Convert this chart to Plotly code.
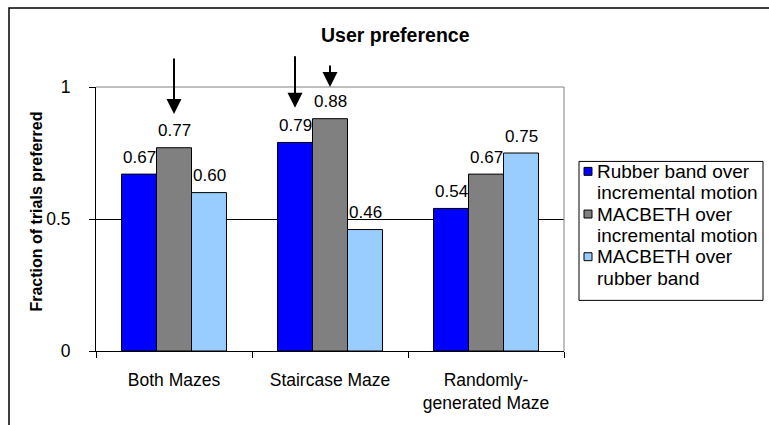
import plotly.graph_objects as go

# ---- data ----
categories = ["Both Mazes", "Staircase Maze", "Randomly-<br>generated Maze"]
series_names = [
    "Rubber band over<br>incremental motion",
    "MACBETH over<br>incremental motion",
    "MACBETH over<br>rubber band",
]
rubber_vs_incremental = [0.67, 0.79, 0.54]
macbeth_vs_incremental = [0.77, 0.88, 0.67]
macbeth_vs_rubber = [0.60, 0.46, 0.75]
series_values = [rubber_vs_incremental, macbeth_vs_incremental, macbeth_vs_rubber]
series_colors = ["#0000FF", "#808080", "#99CCFF"]

y_ticks = [0, 0.5, 1]
y_tick_labels = ["0", "0.5", "1"]

# highlighted bars: (category index, series index, arrow tip value, tail offset px)
arrows = [(0, 1, 0.898, -57), (1, 0, 0.921, -53), (1, 1, 1.0, -23)]

FONT = "Liberation Sans, Arial, sans-serif"
BARGAP = 0.327
bar_w = (1 - BARGAP) / len(series_values)
offsets = [(k - (len(series_values) - 1) / 2) * bar_w for k in range(len(series_values))]

# plot-area pixel geometry (used to place paper-referenced decorations)
PL, PR, PT, PB = 96, 564, 87, 353
def px_x(px):
    return (px - PL) / (PR - PL)
def px_y(py):
    return (PB - py) / (PB - PT)

fig = go.Figure()
for name, vals, col in zip(series_names, series_values, series_colors):
    fig.add_trace(go.Bar(
        x=categories, y=vals, name=name,
        marker=dict(color=col, line=dict(color="black", width=1)),
        showlegend=False, hoverinfo="skip",
    ))

annotations = []
# value labels above bars
for k, vals in enumerate(series_values):
    for i, v in enumerate(vals):
        annotations.append(dict(
            x=i + offsets[k], y=v, xref="x", yref="y", text=f"{v:.2f}",
            showarrow=False, yanchor="middle", yshift=17,
            font=dict(family=FONT, size=17, color="black"),
        ))

# arrows pointing at highlighted bars
for ci, si, tip, tail in arrows:
    annotations.append(dict(
        x=ci + offsets[si], y=tip, xref="x", yref="y", text="",
        showarrow=True, ax=0, ay=tail, arrowhead=2, arrowsize=1.5,
        arrowwidth=2, arrowcolor="black", standoff=0,
    ))

# chart title
annotations.append(dict(
    x=px_x(395), y=px_y(35), xref="paper", yref="paper", text="<b>User preference</b>",
    showarrow=False, xanchor="center", yanchor="middle",
    font=dict(family=FONT, size=19.5, color="black"),
))
# y axis title
annotations.append(dict(
    x=px_x(37), y=px_y(212.5), xref="paper", yref="paper",
    text="<b>Fraction of trials preferred</b>", textangle=-90,
    showarrow=False, xanchor="center", yanchor="middle",
    font=dict(family=FONT, size=16, color="black"),
))

shapes = []
# outer chart frame
shapes.append(dict(type="rect", xref="paper", yref="paper",
                   x0=px_x(9), y0=-0.5, x1=1.8, y1=px_y(7.5),
                   line=dict(color="black", width=1.5), layer="below"))
# plot area top and right edges
shapes.append(dict(type="line", xref="paper", yref="paper", x0=0, x1=1, y0=1, y1=1,
                   line=dict(color="#808080", width=1), layer="above"))
shapes.append(dict(type="line", xref="paper", yref="paper", x0=1, x1=1, y0=0, y1=1,
                   line=dict(color="#808080", width=1), layer="above"))

# legend box
shapes.append(dict(type="rect", xref="paper", yref="paper",
                   x0=px_x(579), x1=px_x(763), y0=px_y(302), y1=px_y(162),
                   line=dict(color="black", width=1), fillcolor="white"))
LINE_H = 21.5
first_line = 172
for k, (name, col) in enumerate(zip(series_names, series_colors)):
    y0 = first_line + 2 * k * LINE_H
    shapes.append(dict(type="rect", xref="paper", yref="paper",
                       x0=px_x(584), x1=px_x(592), y0=px_y(y0 + 4), y1=px_y(y0 - 4),
                       line=dict(color="black", width=1), fillcolor=col))
    for j, line in enumerate(name.split("<br>")):
        annotations.append(dict(
            x=px_x(595), y=px_y(y0 + j * LINE_H), xref="paper", yref="paper",
            text=line, showarrow=False, xanchor="left", yanchor="middle",
            font=dict(family=FONT, size=19, color="black"),
        ))

fig.update_layout(
    width=769, height=425,
    margin=dict(l=PL, r=769 - PR, t=PT, b=425 - PB),
    paper_bgcolor="white", plot_bgcolor="white",
    barmode="group", bargap=BARGAP, bargroupgap=0,
    font=dict(family=FONT, size=17, color="black"),
    annotations=annotations, shapes=shapes,
    xaxis=dict(
        tickson="boundaries", ticks="outside", ticklen=6, tickcolor="black",
        showline=True, linecolor="black", linewidth=1,
        showgrid=False, zeroline=False,
        tickfont=dict(family=FONT, size=17.5, color="black"),
        ticklabelstandoff=13,
    ),
    yaxis=dict(
        range=[0, 1], tickvals=y_ticks, ticktext=y_tick_labels,
        ticks="outside", ticklen=6, tickcolor="black",
        showline=True, linecolor="black", linewidth=1,
        showgrid=True, gridcolor="black", gridwidth=1, zeroline=False,
        tickfont=dict(family=FONT, size=17.5, color="black"),
        ticklabelstandoff=15,
    ),
)

fig.write_html("out.html")
